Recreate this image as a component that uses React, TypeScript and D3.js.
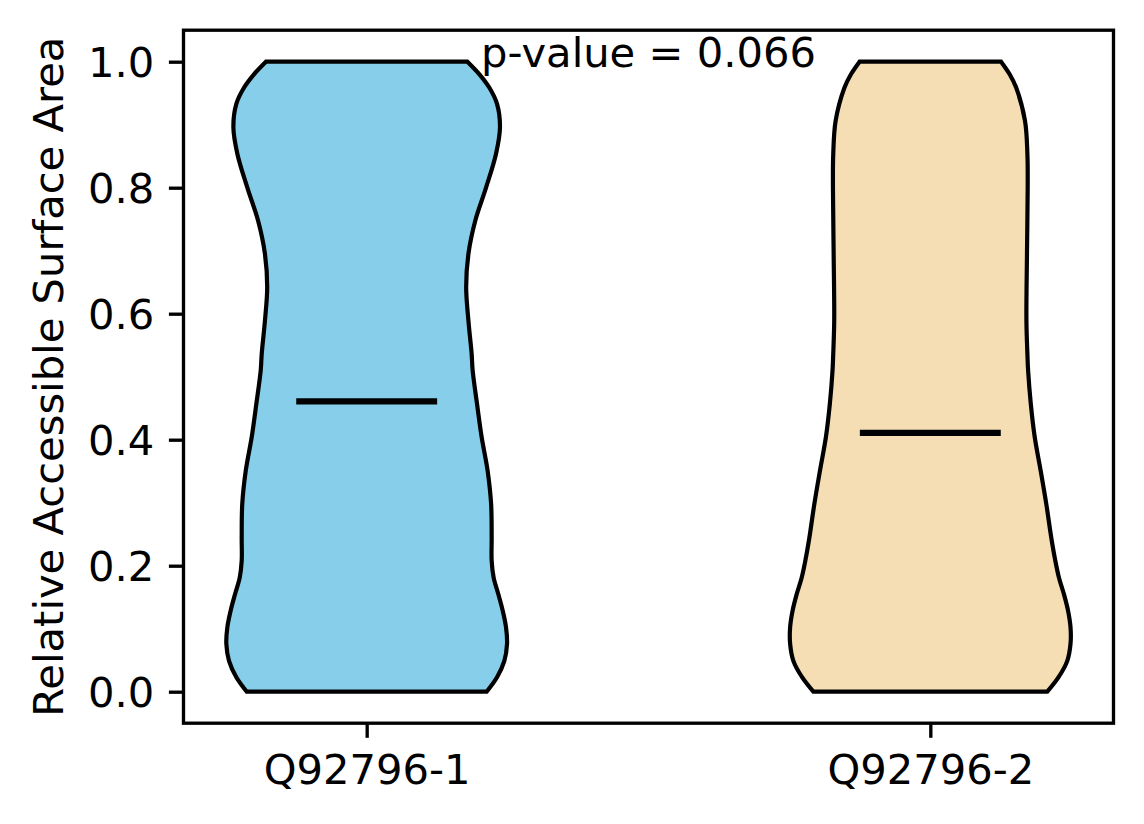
import React, { useEffect, useRef } from 'react';
import * as d3 from 'd3';

// categories and summary values
const groups = ['Q92796-1', 'Q92796-2'];
const medians = [0.461, 0.411];
const pValueText = 'p-value = 0.066';
const yTicks = [0.0, 0.2, 0.4, 0.6, 0.8, 1.0];
const colors = ['#87CEEB', '#F5DEB3'];

// violin outlines: y value and relative density (max = 1)
const violinY1 = [0, 0.023, 0.049, 0.076, 0.102, 0.129, 0.155, 0.181, 0.208, 0.245, 0.298, 0.351, 0.404, 0.457, 0.51, 0.536, 0.589, 0.642, 0.695, 0.748, 0.8, 0.854, 0.896, 0.933, 0.959, 0.98, 1.0];
const violinD1 = [0.851, 0.925, 0.977, 0.996, 0.989, 0.965, 0.934, 0.901, 0.887, 0.887, 0.883, 0.858, 0.816, 0.783, 0.752, 0.745, 0.722, 0.706, 0.722, 0.771, 0.847, 0.918, 0.946, 0.925, 0.87, 0.8, 0.715];

const violinY2 = [0, 0.023, 0.049, 0.076, 0.102, 0.129, 0.155, 0.181, 0.208, 0.245, 0.298, 0.351, 0.404, 0.457, 0.51, 0.536, 0.589, 0.695, 0.8, 0.853, 0.906, 0.959, 0.98, 1.0];
const violinD2 = [0.83, 0.91, 0.972, 0.995, 0.995, 0.977, 0.948, 0.913, 0.887, 0.858, 0.823, 0.783, 0.741, 0.713, 0.694, 0.689, 0.682, 0.686, 0.691, 0.689, 0.672, 0.609, 0.563, 0.502];

const violins = [
    { ys: violinY1, ds: violinD1 },
    { ys: violinY2, ds: violinD2 },
];

const App: React.FC = () => {
    const svgRef = useRef<SVGSVGElement | null>(null);

    useEffect(() => {
        if (!svgRef.current) return;
        const width = 1144;
        const height = 824;
        const left = 183.5;
        const right = 1113.5;
        const top = 30.2;
        const bottom = 723.2;
        const font = 'DejaVu Sans, sans-serif';
        const fs = 41.67;

        const svg = d3.select(svgRef.current);
        svg.selectAll('*').remove();
        svg.attr('width', width).attr('height', height);

        const x = d3.scaleLinear().domain([0.675, 2.325]).range([left, right]);
        const y = d3.scaleLinear().domain([-0.05, 1.05]).range([bottom, top]);

        // violins
        violins.forEach((v, i) => {
            const pos = i + 1;
            const pts = v.ys.map((yy, k) => ({ y: yy, d: v.ds[k] }));
            const area = d3
                .area<{ y: number; d: number }>()
                .y((p) => y(p.y))
                .x0((p) => x(pos - 0.25 * p.d))
                .x1((p) => x(pos + 0.25 * p.d))
                .curve(d3.curveCatmullRom);
            svg
                .append('path')
                .attr('d', area(pts) as string)
                .attr('fill', colors[i])
                .attr('stroke', '#000')
                .attr('stroke-width', 4.2)
                .attr('stroke-linejoin', 'miter');

            // median line
            svg
                .append('line')
                .attr('x1', x(pos - 0.125))
                .attr('x2', x(pos + 0.125))
                .attr('y1', y(medians[i]))
                .attr('y2', y(medians[i]))
                .attr('stroke', '#000')
                .attr('stroke-width', 6.25);
        });

        // axes
        const yAxis = d3
            .axisLeft(y)
            .tickValues(yTicks)
            .tickFormat(d3.format('.1f'))
            .tickSize(14.6)
            .tickPadding(14.6);
        const gy = svg.append('g').attr('transform', `translate(${left},0)`).call(yAxis);

        const xAxis = d3
            .axisBottom(x)
            .tickValues([1, 2])
            .tickFormat((d, i) => groups[i])
            .tickSize(14.6)
            .tickPadding(14.6);
        const gx = svg.append('g').attr('transform', `translate(0,${bottom})`).call(xAxis);

        [gx, gy].forEach((g) => {
            g.select('.domain').remove();
            g.selectAll('.tick line').attr('stroke', '#000').attr('stroke-width', 3.33);
            g.selectAll('.tick text')
                .attr('fill', '#000')
                .style('font-family', font)
                .style('font-size', `${fs}px`);
        });
        gy.selectAll('.tick text').attr('dy', '0.36em');
        gx.selectAll('.tick text').attr('dy', '0.76em');

        // spines
        svg
            .append('rect')
            .attr('x', left)
            .attr('y', top)
            .attr('width', right - left)
            .attr('height', bottom - top)
            .attr('fill', 'none')
            .attr('stroke', '#000')
            .attr('stroke-width', 3.33);

        // p-value annotation
        svg
            .append('text')
            .attr('x', x(1.5))
            .attr('y', y(1.0) + 5.5)
            .attr('text-anchor', 'middle')
            .style('font-family', font)
            .style('font-size', `${fs}px`)
            .attr('fill', '#000')
            .text(pValueText);

        // y label
        svg
            .append('text')
            .attr('transform', `translate(63.3,${(top + bottom) / 2}) rotate(-90)`)
            .attr('text-anchor', 'middle')
            .style('font-family', font)
            .style('font-size', `${fs}px`)
            .attr('fill', '#000')
            .text('Relative Accessible Surface Area');
    }, []);

    return (
        <svg
            ref={svgRef}
            width={1144}
            height={824}
            style={{ position: 'absolute', left: 0, top: 0, background: '#fff' }}
        ></svg>
    );
};

export default App;
